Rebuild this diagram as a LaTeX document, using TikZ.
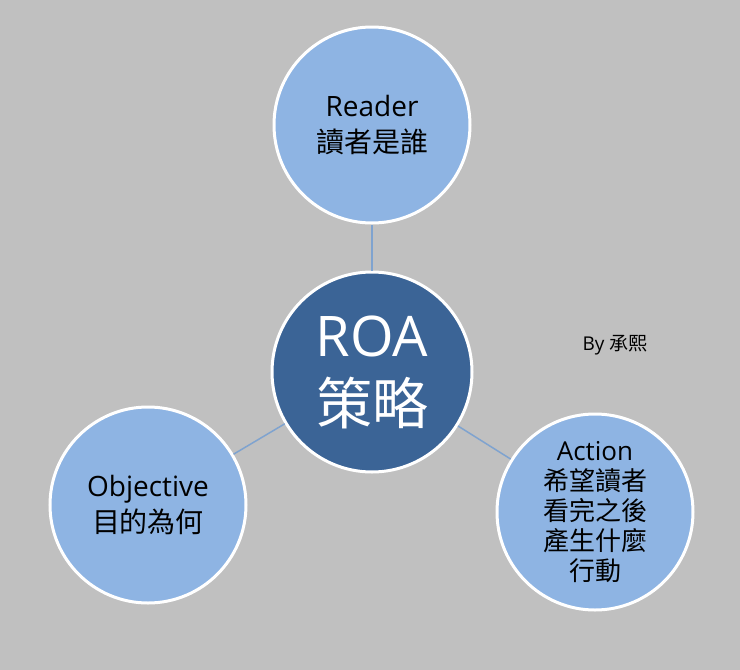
\documentclass[tikz,border=0pt]{standalone}
\usepackage{fontspec}
\setmainfont{Open Sans}
\newfontfamily\cjk{Noto Sans CJK TC}
\begin{document}
\begin{tikzpicture}[x=1pt,y=-1pt,
  outer/.style={circle,fill=outerblue,draw=white,line width=3pt,minimum size=196pt,align=center,font=\fontsize{28}{36}\selectfont,inner sep=0pt},
  inner/.style={circle,fill=innerblue,draw=white,line width=3pt,minimum size=200pt,align=center,text=white,inner sep=0pt},
  link/.style={draw=linkblue,line width=1.5pt}]
\definecolor{outerblue}{HTML}{8EB4E3}
\definecolor{innerblue}{HTML}{3B6496}
\definecolor{linkblue}{HTML}{7FA3CF}
\fill[fill={rgb,255:red,192;green,192;blue,192}] (0,0) rectangle (740,670);
\useasboundingbox (0,0) rectangle (740,670);
\node[outer] (r) at (372,125) {Reader\\{\cjk 讀者是誰}};
\node[outer] (o) at (148,505) {Objective\\{\cjk 目的為何}};
\node[outer,font=\fontsize{26}{30}\selectfont] (a) at (595,512) {Action\\{\cjk 希望讀者}\\{\cjk 看完之後}\\{\cjk 產生什麼}\\{\cjk 行動}};
\node[inner,font=\fontsize{56}{66}\selectfont] (c) at (372,372) {ROA\\[2pt]{\cjk 策略}};
\draw[link] (c) -- (r);
\draw[link] (c) -- (o);
\draw[link] (c) -- (a);
\node[font=\fontsize{19}{22}\selectfont] (by) at (615,345) {By {\cjk 承熙}};
\end{tikzpicture}
\end{document}
